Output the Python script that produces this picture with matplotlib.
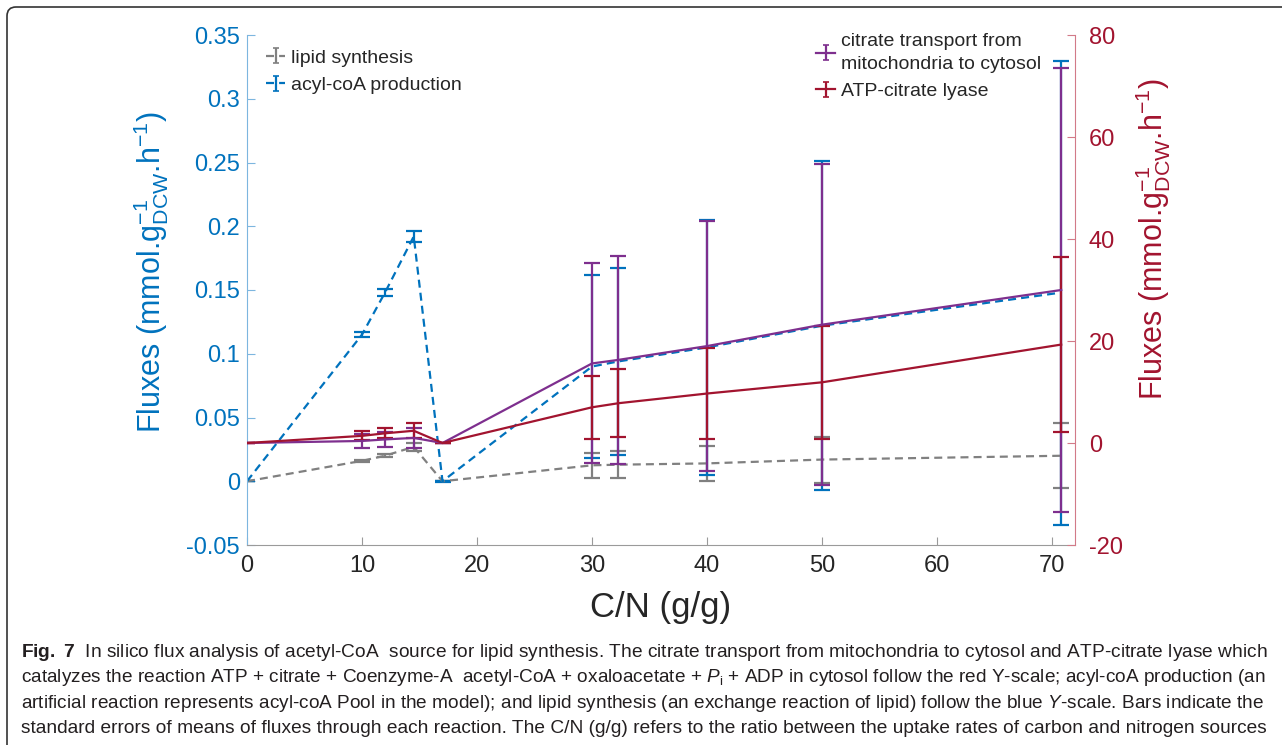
import matplotlib
matplotlib.use('Agg')
import matplotlib.pyplot as plt
from matplotlib import font_manager
from matplotlib.patches import FancyBboxPatch
from matplotlib.transforms import IdentityTransform
from matplotlib.container import ErrorbarContainer
from matplotlib.legend_handler import HandlerErrorbar
from matplotlib.lines import Line2D

# C/N ratio (g/g)
cn = [0, 10, 12, 14.5, 17, 30, 32.3, 40, 50, 70.8]

# blue (left) scale
lipid = [0, 0.016, 0.020, 0.027, 0, 0.0125, 0.013, 0.014, 0.017, 0.020]
lipid_err = [0, 0.001, 0.001, 0.003, 0, 0.010, 0.0106, 0.0138, 0.018, 0.0255]
acyl = [0, 0.115, 0.148, 0.192, 0, 0.090, 0.094, 0.105, 0.122, 0.148]
acyl_err = [0, 0.002, 0.003, 0.004, 0.0005, 0.072, 0.0735, 0.100, 0.129, 0.182]

# red (right) scale
citrate = [0, 0.4, 0.7, 1.0, 0, 15.6, 16.3, 19.0, 23.2, 30.0]
citrate_err = [0, 1.3, 1.5, 2.0, 0, 19.6, 20.4, 24.5, 31.5, 43.6]
acl = [0, 1.4, 1.9, 2.4, 0, 7.0, 7.8, 9.7, 11.9, 19.3]
acl_err = [0, 0.9, 1.0, 1.5, 0, 6.2, 6.7, 9.0, 11.1, 17.1]

xticks = [0, 10, 20, 30, 40, 50, 60, 70]
left_ticks = [-0.05, 0, 0.05, 0.1, 0.15, 0.2, 0.25, 0.3, 0.35]
left_labels = ['-0.05', '0', '0.05', '0.1', '0.15', '0.2', '0.25', '0.3', '0.35']
right_ticks = [-20, 0, 20, 40, 60, 80]
right_labels = ['-20', '0', '20', '40', '60', '80']

caption = [
    r"$\mathbf{Fig.\ 7}$  In silico flux analysis of acetyl-CoA  source for lipid synthesis. The citrate transport from mitochondria to cytosol and ATP-citrate lyase which",
    r"catalyzes the reaction ATP + citrate + Coenzyme-A  acetyl-CoA + oxaloacetate + $P_\mathrm{i}$ + ADP in cytosol follow the red Y-scale; acyl-coA production (an",
    r"artificial reaction represents acyl-coA Pool in the model); and lipid synthesis (an exchange reaction of lipid) follow the blue $Y$-scale. Bars indicate the",
    r"standard errors of means of fluxes through each reaction. The C/N (g/g) refers to the ratio between the uptake rates of carbon and nitrogen sources",
]

BLUE = '#0072BD'
RED = '#A2142F'
PURPLE = '#7E2F8E'
GREY = '#808080'
DARK = '#262626'

plt.rcParams['font.family'] = ['Liberation Sans', 'DejaVu Sans']
plt.rcParams['mathtext.fontset'] = 'custom'
plt.rcParams['mathtext.rm'] = 'Liberation Sans'
plt.rcParams['mathtext.it'] = 'Liberation Sans:italic'
plt.rcParams['mathtext.bf'] = 'Liberation Sans:bold'

W, H = 1282, 745
fig = plt.figure(figsize=(W / 100, H / 100), dpi=100)
ax = fig.add_axes([247 / W, 1 - 545 / H, 828 / W, 510 / H])
ax2 = ax.twinx()

kw = dict(lw=1.6, elinewidth=1.6, capsize=6, capthick=1.6)
h1 = ax.errorbar(cn, lipid, yerr=lipid_err, color=GREY, ls='--', dashes=(3.6, 2.3),
                 label='lipid synthesis', **kw)
h2 = ax.errorbar(cn, acyl, yerr=acyl_err, color=BLUE, ls='--', dashes=(3.6, 2.3),
                 label='acyl-coA production', **kw)
h3 = ax2.errorbar(cn, citrate, yerr=citrate_err, color=PURPLE,
                  label='citrate transport from\nmitochondria to cytosol', **kw)
h4 = ax2.errorbar(cn, acl, yerr=acl_err, color=RED, label='ATP-citrate lyase', **kw)

ax.set_xlim(0, 72)
ax.set_ylim(-0.05, 0.35)
ax2.set_ylim(-20, 80)
ax.set_xticks(xticks)
ax.set_yticks(left_ticks)
ax.set_yticklabels(left_labels)
ax2.set_yticks(right_ticks)
ax2.set_yticklabels(right_labels)

for s in ['top', 'right']:
    ax.spines[s].set_visible(False)
for s in ['top', 'left', 'bottom']:
    ax2.spines[s].set_visible(False)
ax.spines['left'].set_color('#7db6df')
ax.spines['bottom'].set_color('#9a9a9a')
ax2.spines['right'].set_color('#d27a88')

ax.tick_params(axis='x', direction='in', length=6, color='#9a9a9a', labelcolor=DARK,
               labelsize=17, pad=7)
ax.tick_params(axis='y', direction='in', length=6, color='#7db6df', labelcolor=BLUE,
               labelsize=17, pad=5)
ax2.tick_params(axis='y', direction='in', length=6, color='#d27a88', labelcolor=RED,
                labelsize=17, pad=10)

ylab = r'Fluxes (mmol.g$^{-1}_{\mathrm{DCW}}$.h$^{-1}$)'
ax.set_xlabel('C/N (g/g)', fontsize=25, color=DARK)
ax.xaxis.set_label_coords(0.5, -0.09)
ax.set_ylabel(ylab, fontsize=22, color=BLUE)
ax.yaxis.set_label_coords(-0.092, 0.535)
ax2.set_ylabel(ylab, fontsize=22, color=RED)
ax2.yaxis.set_label_coords(1.07, 0.6)


def small_caps(lh, oh):
    # legend icons: short bar with small caps
    lh.update_from(oh)
    if isinstance(oh, Line2D) and oh.get_marker() == '_':
        lh.set_markersize(5)
        lh.set_markeredgewidth(1.2)


hmap = {ErrorbarContainer: HandlerErrorbar(yerr_size=0.38, update_func=small_caps)}
leg_kw = dict(loc='upper left', frameon=False, fontsize=14, bbox_transform=fig.transFigure,
              borderpad=0, borderaxespad=0, handlelength=1.0, handletextpad=0.3,
              labelspacing=0.5, labelcolor=DARK, handler_map=hmap)
leg1 = ax.legend(handles=[h1, h2], bbox_to_anchor=(266 / W, 1 - 49 / H), **leg_kw)
leg2 = ax2.legend(handles=[h3, h4], bbox_to_anchor=(816 / W, 1 - 33 / H), **leg_kw)
for t in leg2.get_texts():
    t.set_linespacing(1.45)

# journal frame around the figure
fig.add_artist(FancyBboxPatch((7, -60), 1400, 798, boxstyle='round,pad=0,rounding_size=9',
                              transform=IdentityTransform(), fill=False,
                              edgecolor='#333333', lw=1.2))

# caption, each line stretched to the text block width like justified text
names = {f.name for f in font_manager.fontManager.ttflist}
cap_font = 'Liberation Sans Narrow' if 'Liberation Sans Narrow' in names else 'Liberation Sans'
renderer = fig.canvas.get_renderer()
x0, x1 = 21, 1264
for i, line in enumerate(caption):
    yb = 657 + i * 25.3
    t = fig.text(x0 / W, 1 - yb / H, line, family=[cap_font, 'DejaVu Sans'], fontsize=13,
                 color='#231f20', va='baseline', ha='left')
    w = t.get_window_extent(renderer).width
    t.set_fontsize(13 * (x1 - x0) / w)

fig.savefig('out.png', dpi=100)
